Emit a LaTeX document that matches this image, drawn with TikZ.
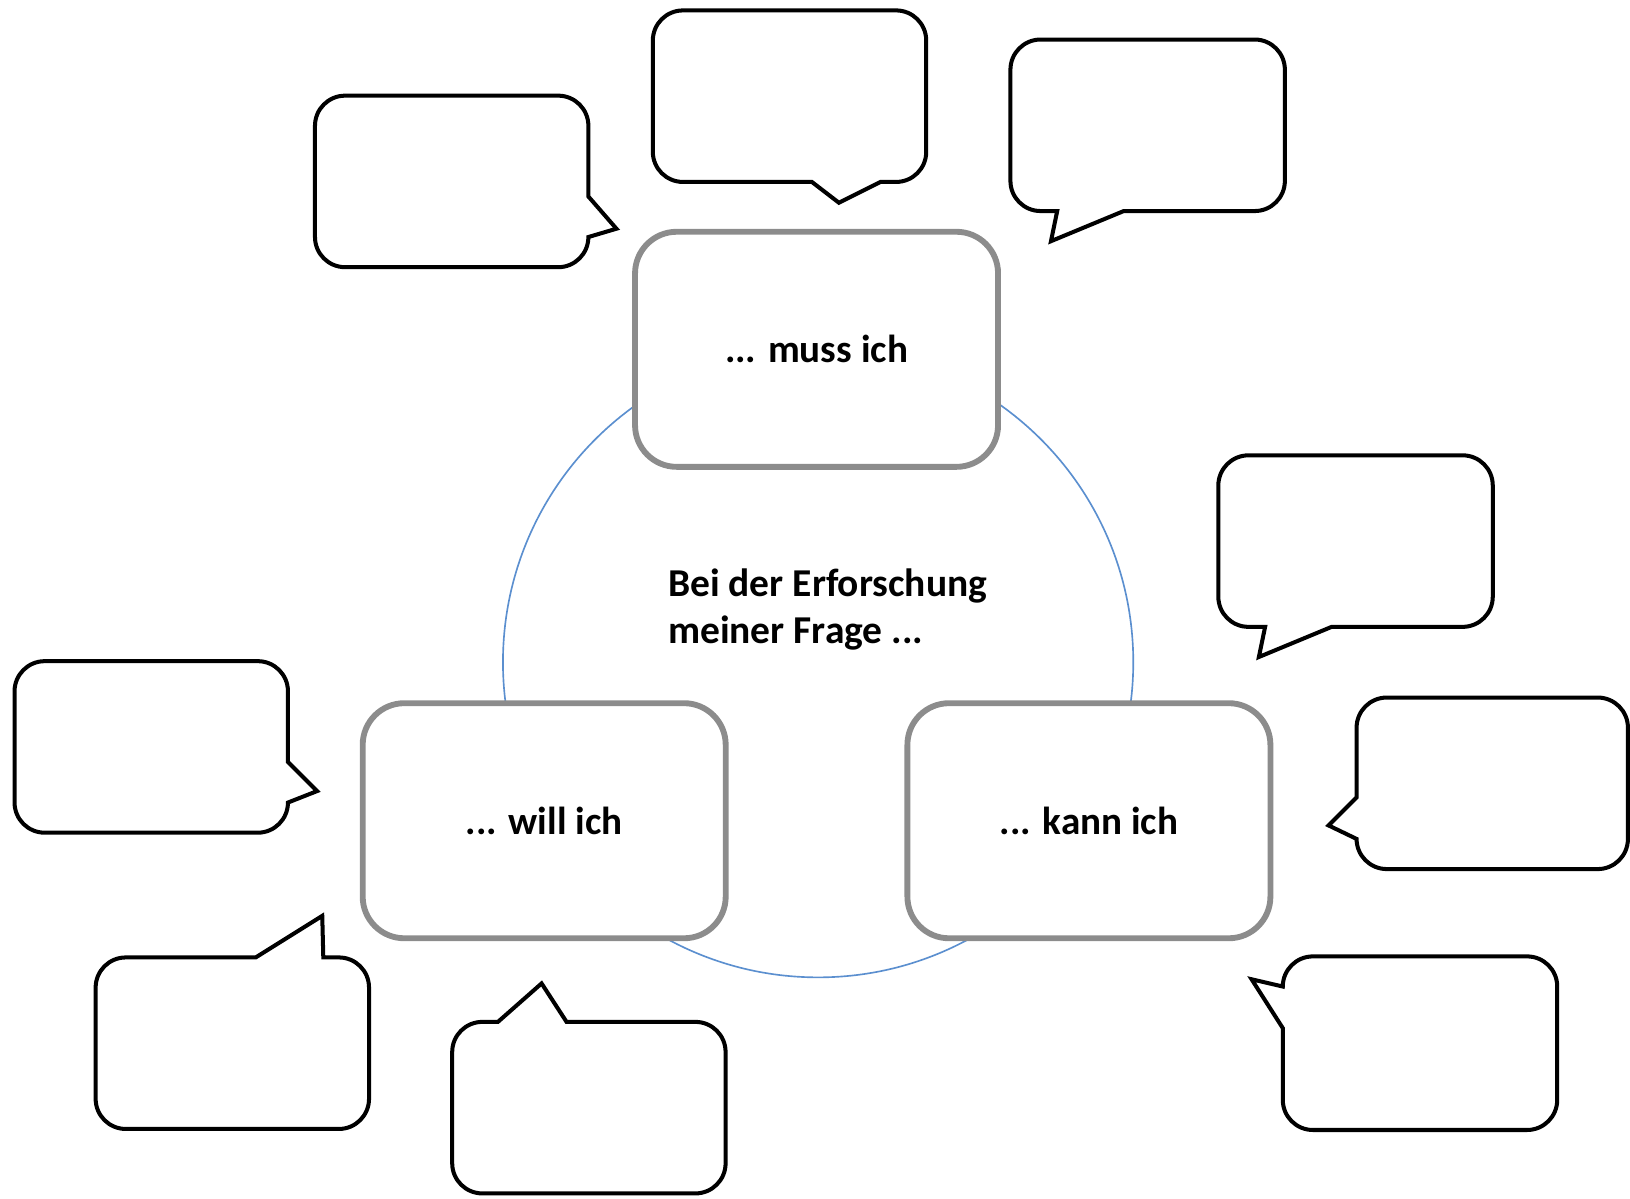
\documentclass[tikz,border=0pt]{standalone}
\usepackage{fontspec}
\setmainfont{Carlito}
\definecolor{ringblue}{RGB}{91,143,207}
\definecolor{boxgray}{RGB}{140,140,140}
\begin{document}
\begin{tikzpicture}[x=0.01cm,y=-0.01cm,
  bubble/.style={draw=black,line width=1.1pt,fill=white,line join=miter},
  mainbox/.style={draw=boxgray,line width=1.6pt,fill=white,rounded corners=0.40cm,
    minimum width=3.49cm,minimum height=2.26cm,inner sep=0pt,
    font=\bfseries\fontsize{10.7pt}{13.1pt}\selectfont},
  ring/.style={draw=ringblue,line width=0.45pt}]
\useasboundingbox (0,0) rectangle (1568,1153);
% ring
\draw[ring] (787,637) circle[radius=3.03cm];
% central text
\node[anchor=north west,inner sep=0pt,align=left,font=\bfseries\fontsize{10.8pt}{13.1pt}\selectfont] (q) at (642,546) {Bei der Erforschung\\meiner Frage ...};
% main boxes
\node[mainbox] (muss) at (785.5,336) {... muss ich};
\node[mainbox] (will) at (523.5,789.5) {... will ich};
\node[mainbox] (kann) at (1047.5,789.5) {... kann ich};
% speech bubbles
% B1 top left
\draw[bubble] (303,121) arc(180:270:29) -- (537,92) arc(270:360:29) -- (566,189) -- (593,220) -- (566,228) arc(0:90:29) -- (332,257) arc(90:180:29) -- cycle;
% B2 top middle
\draw[bubble] (628,39) arc(180:270:29) -- (862,10) arc(270:360:29) -- (891,146) arc(0:90:29) -- (847,175) -- (807,195) -- (781,175) -- (657,175) arc(90:180:29) -- cycle;
% B3 top right
\draw[bubble] (972,67) arc(180:270:29) -- (1207,38) arc(270:360:29) -- (1236,174) arc(0:90:29) -- (1081,203) -- (1011,232) -- (1017,203) -- (1001,203) arc(90:180:29) -- cycle;
% B4 right upper
\draw[bubble] (1172,467) arc(180:270:29) -- (1407,438) arc(270:360:29) -- (1436,574) arc(0:90:29) -- (1281,603) -- (1211,632) -- (1217,603) -- (1201,603) arc(90:180:29) -- cycle;
% B5 right middle
\draw[bubble] (1305,700) arc(180:270:29) -- (1537,671) arc(270:360:29) -- (1566,807) arc(0:90:29) -- (1334,836) arc(90:180:29) -- (1278,794) -- (1305,767) -- cycle;
% B6 bottom right
\draw[bubble] (1234,949) arc(180:270:29) -- (1469,920) arc(270:360:29) -- (1498,1058) arc(0:90:29) -- (1263,1087) arc(90:180:29) -- (1234,989) -- (1204,942) -- cycle;
% B7 left middle
\draw[bubble] (14,665) arc(180:270:29) -- (248,636) arc(270:360:29) -- (277,733) -- (305,761) -- (277,772) arc(0:90:29) -- (43,801) arc(90:180:29) -- cycle;
% B8 bottom left
\draw[bubble] (92,950) arc(180:270:29) -- (246,921) -- (310,881) -- (311,921) -- (326,921) arc(270:360:29) -- (355,1057) arc(0:90:29) -- (121,1086) arc(90:180:29) -- cycle;
% B9 bottom middle
\draw[bubble] (435,1012) arc(180:270:29) -- (479,983) -- (521,946) -- (545,983) -- (669,983) arc(270:360:29) -- (698,1119) arc(0:90:29) -- (464,1148) arc(90:180:29) -- cycle;
\end{tikzpicture}
\end{document}
